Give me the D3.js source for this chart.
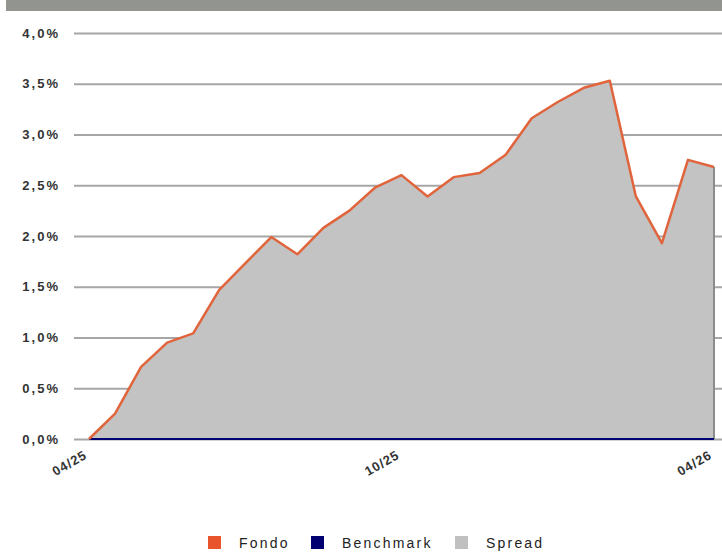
<!DOCTYPE html>
<html>
<head>
<meta charset="utf-8">
<script src="https://cdn.jsdelivr.net/npm/d3@7"></script>
<style>
  body { margin: 0; background: #fff; }
  svg { display: block; }
  .tick text { font-family: "Liberation Sans", Arial, sans-serif; }
</style>
</head>
<body>
<div id="chart"></div>
<script>
// data (half-monthly points, 04/25 -> 04/26)
var dates = ['04/25','','','','','','','','','','','','10/25','','','','','','','','','','','','04/26'];
var fondo = [0, 0.25, 0.71, 0.95, 1.04, 1.47, 1.73, 1.99, 1.82, 2.08, 2.25, 2.48, 2.60,
             2.39, 2.58, 2.62, 2.80, 3.16, 3.32, 3.46, 3.53, 2.39, 1.93, 2.75, 2.68];
var benchmark = [0,0,0,0,0,0,0,0,0,0,0,0,0,0,0,0,0,0,0,0,0,0,0,0,0];
var spread = [0, 0.25, 0.71, 0.95, 1.04, 1.47, 1.73, 1.99, 1.82, 2.08, 2.25, 2.48, 2.60,
              2.39, 2.58, 2.62, 2.80, 3.16, 3.32, 3.46, 3.53, 2.39, 1.93, 2.75, 2.68];
var yTicks = [0, 0.5, 1, 1.5, 2, 2.5, 3, 3.5, 4];
var xTicks = [0, 12, 24];
var legendItems = [
  {name: 'Fondo', color: '#e8552d'},
  {name: 'Benchmark', color: '#000070'},
  {name: 'Spread', color: '#c0c0c0'}
];

var width = 722, height = 553;
var svg = d3.select('#chart').append('svg')
  .attr('width', width)
  .attr('height', height);

// grey band on top
svg.append('rect')
  .attr('x', 6).attr('y', 0)
  .attr('width', width - 6).attr('height', 11)
  .attr('fill', '#929490');

var x = d3.scaleLinear().domain([0, dates.length - 1]).range([89, 714]);
var y = d3.scaleLinear().domain([0, 4]).range([439, 33]);

// gridlines + y labels
var yAxis = svg.append('g')
  .attr('transform', 'translate(722,0)')
  .call(d3.axisLeft(y).tickValues(yTicks).tickSize(648).tickPadding(14)
    .tickFormat(function(d) { return d3.format('.1f')(d).replace('.', ',') + '%'; }));
yAxis.select('.domain').remove();
yAxis.selectAll('.tick line').attr('stroke', '#a6a6a6').attr('stroke-width', 2);
yAxis.selectAll('.tick text')
  .attr('fill', '#333')
  .style('font-size', '13px')
  .style('font-weight', 'bold')
  .style('letter-spacing', '2px');

// spread area
var area = d3.area()
  .x(function(d, i) { return x(i); })
  .y0(function(d, i) { return y(benchmark[i]); })
  .y1(function(d, i) { return y(benchmark[i] + d); });
svg.append('path')
  .datum(spread)
  .attr('d', area)
  .attr('fill', '#c3c3c3');

// right edge of area
var last = spread.length - 1;
svg.append('line')
  .attr('x1', x(last)).attr('x2', x(last))
  .attr('y1', y(spread[last])).attr('y2', y(0))
  .attr('stroke', '#8c8c8c').attr('stroke-width', 2);

var line = d3.line()
  .x(function(d, i) { return x(i); })
  .y(function(d) { return y(d); });

svg.append('path')
  .datum(benchmark)
  .attr('d', line)
  .attr('fill', 'none')
  .attr('stroke', '#000070')
  .attr('stroke-width', 2);

svg.append('path')
  .datum(fondo)
  .attr('d', line)
  .attr('fill', 'none')
  .attr('stroke', '#e0643c')
  .attr('stroke-width', 2.5)
  .attr('stroke-linejoin', 'round');

// x labels
var xAxis = svg.append('g')
  .attr('transform', 'translate(0,439)')
  .call(d3.axisBottom(x).tickValues(xTicks).tickSize(0)
    .tickFormat(function(d) { return dates[d]; }));
xAxis.select('.domain').remove();
xAxis.selectAll('.tick text')
  .attr('fill', '#333')
  .attr('text-anchor', 'end')
  .attr('dy', 0)
  .attr('transform', 'translate(-3,16) rotate(-30)')
  .style('font-size', '13px')
  .style('font-weight', 'bold')
  .style('letter-spacing', '1px');

// legend
var legendX = [208, 311, 455];
var legend = svg.append('g').selectAll('g')
  .data(legendItems)
  .enter().append('g')
  .attr('transform', function(d, i) { return 'translate(' + legendX[i] + ',536)'; });
legend.append('rect')
  .attr('width', 13).attr('height', 13)
  .attr('fill', function(d) { return d.color; });
legend.append('text')
  .attr('x', 31).attr('y', 11.5)
  .attr('fill', '#222')
  .style('font-family', '"Liberation Sans", Arial, sans-serif')
  .style('font-size', '14px')
  .style('letter-spacing', '2.2px')
  .text(function(d) { return d.name; });
</script>
</body>
</html>
